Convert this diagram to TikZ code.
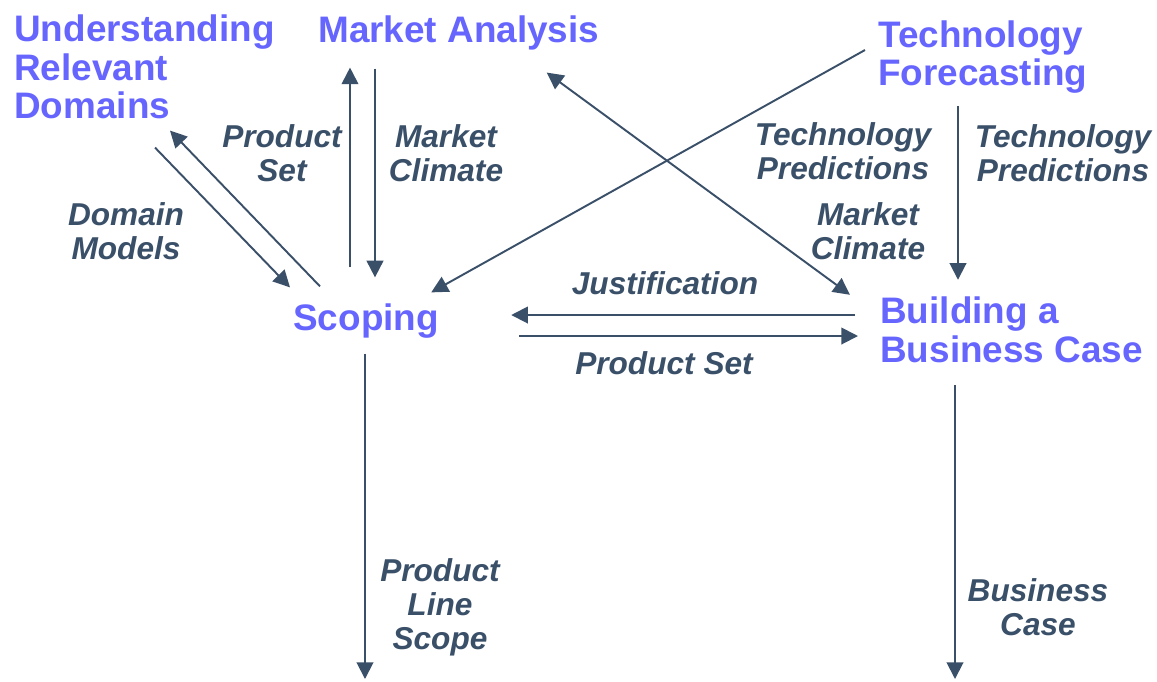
\documentclass[tikz,border=0pt]{standalone}
\usepackage{fontspec}
\setmainfont{Liberation Sans}
\usetikzlibrary{arrows.meta, positioning, calc}
\definecolor{topicblue}{HTML}{6666FF}
\definecolor{flowslate}{HTML}{3A5069}

\begin{document}
\begin{tikzpicture}[
      x=0.02cm, y=-0.02cm,
      topic/.style={inner sep=0, align=left, anchor=west, text=topicblue, font=\bfseries\fontsize{21}{22}\selectfont},
      flow/.style={inner sep=0, align=center, text=flowslate, font=\bfseries\itshape\fontsize{18}{19.3}\selectfont},
      arrow/.style={-{Triangle[length=9.5pt, width=9.5pt]}, line width=1.1pt, draw=flowslate}
    ]
    \useasboundingbox (0,0) rectangle (1157,681);

    % activities
    \node[topic] (domains) at (14,67) {Understanding\\Relevant\\Domains};
    \node[topic] (market) at (318,33) {Market Analysis};
    \node[topic] (techfc) at (878,57) {Technology\\Forecasting};
    \node[topic] (scoping) at (293,321) {Scoping};
    \node[topic] (bizcase) at (880,330) {Building a\\Business Case};

    % free ends at the bottom
    \coordinate (scopeout) at (365,679);
    \coordinate (caseout) at (955,679);

    % connectors
    \draw[arrow] ([shift={(141,28)}]domains.south west) -- ([shift={(-3,-16)}]scoping.north west);
    \draw[arrow] ([shift={(27,-17)}]scoping.north west) -- ([shift={(156,11)}]domains.south west);
    \draw[arrow] ([shift={(57,-36)}]scoping.north west) -- ([shift={(32,17)}]market.south west);
    \draw[arrow] ([shift={(57,18)}]market.south west) -- ([shift={(82,-26)}]scoping.north west);
    \draw[arrow] ([shift={(-13,-7)}]techfc.west) -- ([shift={(-8,-11)}]scoping.north east);
    \draw[arrow, {Triangle[length=9.5pt, width=9.5pt]}-{Triangle[length=9.5pt, width=9.5pt]}] ([shift={(-53,22)}]market.south east) -- ([shift={(-30,-2)}]bizcase.north west);
    \draw[arrow] ([shift={(80,12)}]techfc.south west) -- ([shift={(78,-17)}]bizcase.north west);
    \draw[arrow] ([shift={(-25,-15)}]bizcase.west) -- ([shift={(72,-6)}]scoping.east);
    \draw[arrow] ([shift={(80,15)}]scoping.east) -- ([shift={(-22,6)}]bizcase.west);
    \draw[arrow] ([shift={(0,15)}]scoping.south -| scopeout) -- (scopeout);
    \draw[arrow] ([shift={(75,22)}]bizcase.south west) -- (caseout);

    % flow labels
    \node[flow] (dmlabel) at (126,231) {Domain\\Models};
    \node[flow] (pslabel) at (282,153) {Product\\Set};
    \node[flow] (mclabel) at (446,153) {Market\\Climate};
    \node[flow] (tplabel) at (843,151) {Technology\\Predictions};
    \node[flow] (mcdiag) at (868,231) {Market\\Climate};
    \node[flow] (tpdown) at (1063,153) {Technology\\Predictions};
    \node[flow] (justlabel) at (665,283) {Justification};
    \node[flow] (psright) at (664,363) {Product Set};
    \node[flow] (plslabel) at (440,607) {Product\\Line\\Scope};
    \node[flow] (bclabel) at (1038,607) {Business\\Case};
  \end{tikzpicture}
\end{document}
